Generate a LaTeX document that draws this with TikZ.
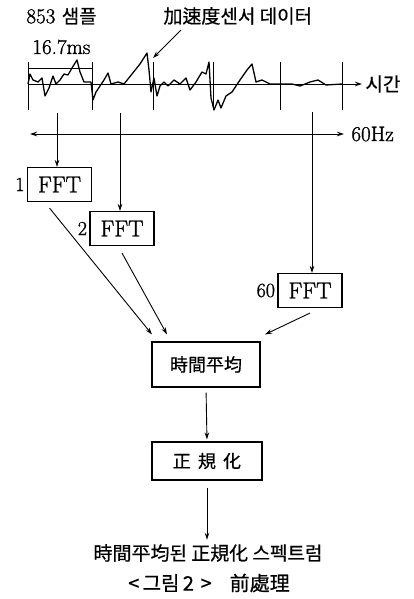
\documentclass[tikz,border=0pt]{standalone}
\usepackage{fontspec}
\newfontfamily\kor{Noto Sans CJK KR}[FakeBold=0.6]
\newfontfamily\lat{Latin Modern Roman}[FakeBold=1.2]
\usetikzlibrary{arrows.meta, positioning}

\tikzset{
  box/.style={draw, line width=1.1pt, inner sep=3pt, font=\kor\fontsize{18}{20}\selectfont},
  fftbox/.style={draw, line width=1.1pt, minimum width=64pt, minimum height=34pt, inner sep=2pt, font=\lat\fontsize{23}{24}\selectfont},
  num/.style={font=\lat\fontsize{20}{22}\selectfont, inner sep=1pt},
  lbl/.style={font=\lat\fontsize{21}{22}\selectfont, inner sep=1pt},
  klbl/.style={font=\kor\fontsize{19}{22}\selectfont, inner sep=1pt},
  flow/.style={-{Stealth[length=7pt,width=4.5pt]}, line width=0.9pt},
  tick/.style={line width=0.9pt},
}

\begin{document}
\begin{tikzpicture}[x=1pt, y=-1pt, line width=0.9pt]
\useasboundingbox (0,0) rectangle (413,599);

% top labels
\node[lbl, anchor=west] (samp) at (25,16) {853\ {\kor\fontsize{19}{22}\selectfont 샘플}};
\node[lbl, anchor=west] (msec) at (31,47) {16.7ms};
\node[klbl, anchor=west] (sensor) at (162,16) {加速度센서\ 데이터};
\coordinate (tail) at (181,30);
\coordinate (hit) at (153,58);
\draw[flow] (tail) -- (hit);

% time axis with ticks
\coordinate (t0) at (28,84);
\coordinate (t1) at (362,84);
\draw[flow] (t0) -- (t1);
\node[klbl, anchor=west] (time) at (364,84) {시간};
\foreach \x in {28,92,153,213,280,342}
  \draw[tick] (\x,62) -- (\x,110);
\draw[tick] (28,68) -- (92,68);

% sensor data
\draw[line width=1.3pt, line join=round]
  (28,84) -- (30,74) -- (33,80) -- (38,82) -- (42,78) -- (45,96) -- (49,88)
  -- (53,76) -- (56,84) -- (60,80) -- (64,74) -- (68,75) -- (72,68) -- (77,60)
  -- (80,72) -- (84,82) -- (91,82) -- (93,100) -- (96,92) -- (100,86) -- (104,80)
  -- (108,73) -- (111,84) -- (118,82) -- (124,84) -- (132,74) -- (140,64)
  -- (147,53) -- (149,70) -- (151,92) -- (154,78) -- (157,96) -- (160,86)
  -- (164,82) -- (168,86) -- (174,80) -- (180,84) -- (186,78) -- (190,90)
  -- (196,82) -- (202,72) -- (206,74) -- (209,62) -- (211,98) -- (214,110)
  -- (218,100) -- (221,108) -- (226,96) -- (232,92) -- (240,80) -- (247,70)
  -- (252,64) -- (256,82) -- (262,80) -- (270,84) -- (280,84) -- (292,84)
  -- (300,86) -- (310,82) -- (318,80) -- (326,85) -- (342,84);

% frequency axis
\coordinate (f0) at (30,134);
\coordinate (fE) at (344,134);
\draw[{Stealth[length=7pt,width=4.5pt]}-{Stealth[length=7pt,width=4.5pt]}] (f0) -- (fE);
\node[lbl, anchor=west] (hz) at (350,134) {60Hz};

% FFT blocks
\node[fftbox] (fft1) at (59.5,184.5) {FFT};
\node[fftbox] (fft2) at (122,228.5) {FFT};
\node[fftbox] (fft60) at (310,290.5) {FFT};
\node[num, left=1pt of fft1] (n1) {1};
\node[num, left=1pt of fft2] (n2) {2};
\node[num, left=1pt of fft60] (n60) {60};

\coordinate (c1) at (57,113);
\coordinate (c2) at (120,113);
\coordinate (c60) at (312,112);
\draw[flow] (c1) -- (c1 |- fft1.north);
\draw[flow] (c2) -- (c2 |- fft2.north);
\draw[flow] (c60) -- (c60 |- fft60.north);

% averaging and normalising
\node[box, minimum width=108pt, minimum height=45pt] (avg) at (206,364.5) {時間平均};
\node[box, minimum width=110pt, minimum height=38pt] (norm) at (207,461) {正\hspace{0.4em}規\hspace{0.4em}化};

\draw[flow] ([xshift=-10pt, yshift=-6pt]fft1.south) -- ([xshift=-54pt, yshift=7pt]avg.north);
\draw[flow] ([yshift=-7pt]fft2.south) -- ([xshift=-39pt, yshift=7pt]avg.north);
\draw[flow] ([yshift=-5pt]fft60.south) -- ([xshift=59pt, yshift=7pt]avg.north);
\draw[flow, shorten <=5pt, shorten >=2pt] (avg.south) -- (norm.north);

\node[klbl, inner sep=3pt, font=\kor\fontsize{19}{22}\selectfont] (result) at (208,553) {時間平均된\ 正規化\ 스펙트럼};
\draw[flow, shorten <=7pt, shorten >=1pt] (norm.south) -- (norm.south |- result.north);

\node[klbl, inner sep=3pt, font=\kor\fontsize{20}{22}\selectfont] (caption) at (209,583) {<\,그림\,2\,\,>\hspace{0.9em}前處理};
\end{tikzpicture}
\end{document}
